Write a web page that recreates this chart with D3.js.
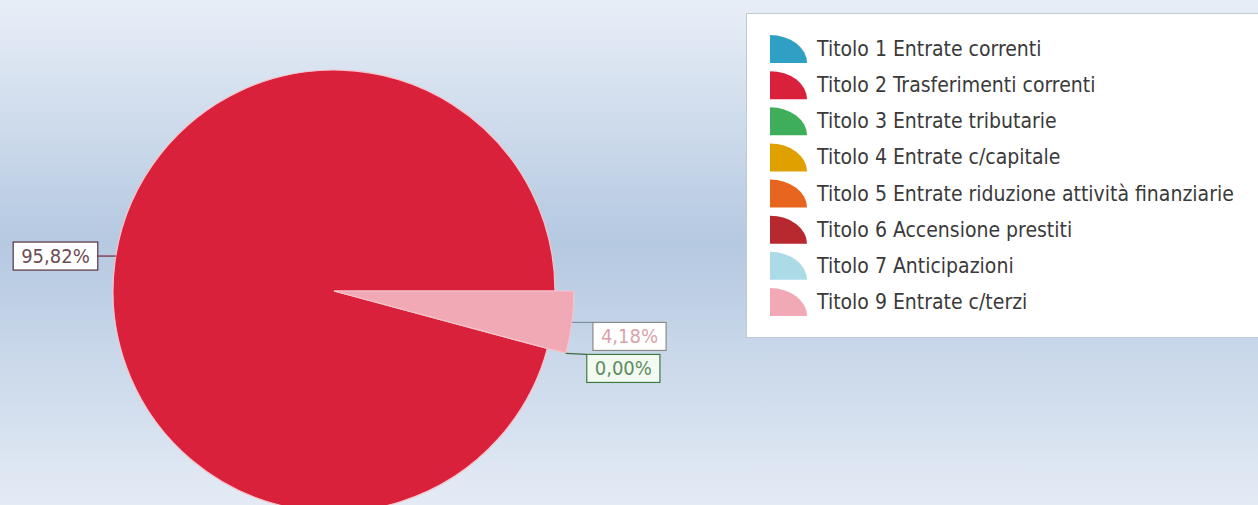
<!DOCTYPE html>
<html>
<head>
<meta charset="utf-8">
<script src="https://cdn.jsdelivr.net/npm/d3@7"></script>
<style>
  body { margin: 0; overflow: hidden; }
  text { font-family: "DejaVu Sans Condensed", "Liberation Sans Narrow", sans-serif; }
</style>
</head>
<body>
<div id="chart"></div>
<script>
// categories and values
const categories = [
    "Titolo 1 Entrate correnti",
    "Titolo 2 Trasferimenti correnti",
    "Titolo 3 Entrate tributarie",
    "Titolo 4 Entrate c/capitale",
    "Titolo 5 Entrate riduzione attività finanziarie",
    "Titolo 6 Accensione prestiti",
    "Titolo 7 Anticipazioni",
    "Titolo 9 Entrate c/terzi"
];
const values = [0, 95.82, 0, 0, 0, 0, 0, 4.18];
const colors = ["#2f9fc4", "#da213c", "#3fae5a", "#e0a100", "#e8651f", "#b8282f", "#acdbe8", "#f0a9b5"];
const labelled = ["Titolo 2 Trasferimenti correnti", "Titolo 9 Entrate c/terzi", "Titolo 3 Entrate tributarie"];
const exploded = ["Titolo 9 Entrate c/terzi"];

const width = 1258, height = 505;
const cx = 334, cy = 291, radius = 221, radiusOut = 240;

const data = categories.map((c, i) => ({ name: c, value: values[i], color: colors[i] }));

const svg = d3.select("#chart")
    .append("svg")
    .attr("width", width)
    .attr("height", height);

// background gradient
const grad = svg.append("defs").append("linearGradient")
    .attr("id", "bg")
    .attr("x1", 0).attr("y1", 0).attr("x2", 0).attr("y2", 1);
grad.append("stop").attr("offset", "0%").attr("stop-color", "#e8eef7");
grad.append("stop").attr("offset", "48%").attr("stop-color", "#b5c9e1");
grad.append("stop").attr("offset", "100%").attr("stop-color", "#e4ebf5");

svg.append("rect")
    .attr("width", width)
    .attr("height", height)
    .attr("fill", "url(#bg)");

// pie, counter-clockwise from 3 o'clock
const pie = d3.pie()
    .sort(null)
    .value(d => d.value)
    .startAngle(Math.PI / 2)
    .endAngle(Math.PI / 2 - 2 * Math.PI);

const arcs = pie(data);
const outerOf = d => exploded.includes(d.data.name) ? radiusOut : radius;
const arc = d3.arc().innerRadius(0).outerRadius(d => outerOf(d));

const g = svg.append("g").attr("transform", `translate(${cx},${cy})`);

g.selectAll("path")
    .data(arcs.filter(d => d.value > 0))
    .join("path")
    .attr("d", arc)
    .attr("fill", d => d.data.color)
    .attr("stroke", "#f6c4cb")
    .attr("stroke-width", 1.2);

// data labels
const labelStyle = {
    "Titolo 2 Trasferimenti correnti": { text: "#6e4c55", border: "#5a3140", line: "#7a2535", fill: "#fff" },
    "Titolo 9 Entrate c/terzi": { text: "#dca2ab", border: "#8a8a8a", line: "#7f8d99", fill: "#fff" },
    "Titolo 3 Entrate tributarie": { text: "#5f8c5f", border: "#3f7a3f", line: "#3f6a3f", fill: "#f3faf2" }
};
const fmt = v => v.toFixed(2).replace(".", ",") + "%";
const lab = svg.append("g");
let lastRightBottom = -Infinity;

labelled.forEach(name => {
    const d = arcs.find(a => a.data.name === name);
    const st = labelStyle[name];
    const a = (d.startAngle + d.endAngle) / 2;
    const r = d.value > 0 ? outerOf(d) : radiusOut;
    let ax = cx + Math.sin(a) * r, ay = cy - Math.cos(a) * r;
    const right = Math.sin(a) > 0;

    const t = lab.append("text")
        .attr("font-size", 20)
        .attr("fill", st.text)
        .text(fmt(d.value));
    const tw = t.node().getComputedTextLength();
    const bw = tw + 16, bh = 28;

    let lx, ly, bx, by;
    if (right) {
        lx = ax + 21;
        ly = Math.max(ay, lastRightBottom + 4);
        bx = lx; by = ly;
        lastRightBottom = by + bh;
    } else {
        // horizontal leader to the pie edge
        ay = ay - 6;
        ax = cx - Math.sqrt(r * r - (ay - cy) * (ay - cy));
        lx = ax - 18;
        ly = ay;
        bx = lx - bw; by = ly - bh / 2;
    }

    lab.insert("line", "text")
        .attr("x1", ax).attr("y1", ay)
        .attr("x2", lx).attr("y2", ly)
        .attr("stroke", st.line)
        .attr("stroke-width", 1.2);
    lab.insert("rect", "text")
        .attr("x", bx).attr("y", by)
        .attr("width", bw).attr("height", bh)
        .attr("fill", st.fill)
        .attr("stroke", st.border)
        .attr("stroke-width", 1.2);
    t.attr("x", bx + bw / 2)
        .attr("y", by + bh / 2)
        .attr("text-anchor", "middle")
        .attr("dominant-baseline", "central");
});

// legend
const legend = svg.append("g");
legend.append("rect")
    .attr("x", 746.5).attr("y", 13.5)
    .attr("width", 530).attr("height", 324)
    .attr("fill", "#ffffff")
    .attr("stroke", "#c3c9d2");

const ly = d3.scalePoint().domain(categories).range([49, 302]);
const iw = 37, ih = 28;

const item = legend.selectAll("g.item")
    .data(data)
    .join("g")
    .attr("class", "item")
    .attr("transform", d => `translate(770,${ly(d.name)})`);

item.append("path")
    .attr("d", `M0,${ih / 2} V${-ih / 2} A${iw} ${ih} 0 0 1 ${iw},${ih / 2} Z`)
    .attr("fill", d => d.color);

item.append("text")
    .attr("x", 47)
    .attr("y", 0)
    .attr("dominant-baseline", "central")
    .attr("font-size", 21)
    .attr("fill", "#3a3a3a")
    .text(d => d.name);
</script>
</body>
</html>
